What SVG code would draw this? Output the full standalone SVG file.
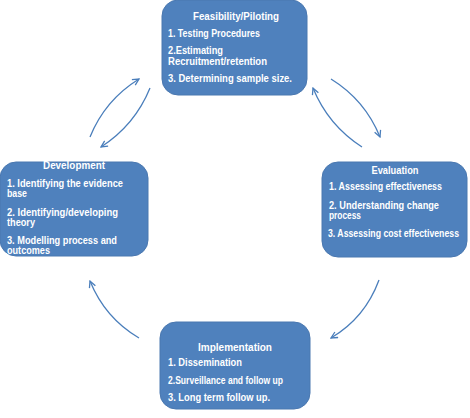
<svg xmlns="http://www.w3.org/2000/svg" width="470" height="418" viewBox="0 0 470 418">
<defs>
<style>
.box{fill:#4f81bd;stroke:#4a78b0;stroke-width:1}
.t{font-family:"Liberation Sans",Arial,sans-serif;font-size:10px;font-weight:bold;fill:#ffffff}
.h{text-anchor:middle}
.c{fill:none;stroke:#4a7ebb;stroke-width:1.3}
</style>
<marker id="ah" viewBox="0 0 10 10" refX="9" refY="5" markerWidth="8" markerHeight="8" markerUnits="userSpaceOnUse" orient="auto">
<polyline points="1,1 9,5 1,9" fill="none" stroke="#4a7ebb" stroke-width="1.6"/>
</marker>
</defs>
<rect width="470" height="418" fill="#ffffff"/>
<g id="feasibility">
<rect class="box" x="162" y="0" width="145" height="95" rx="16"/>
<text class="t h" x="236" y="20" textLength="86" lengthAdjust="spacingAndGlyphs">Feasibility/Piloting</text>
<text class="t" x="168" y="37" textLength="92" lengthAdjust="spacingAndGlyphs">1. Testing Procedures</text>
<text class="t" x="168" y="54" textLength="55" lengthAdjust="spacingAndGlyphs">2.Estimating</text>
<text class="t" x="168" y="65" textLength="99" lengthAdjust="spacingAndGlyphs">Recruitment/retention</text>
<text class="t" x="168" y="82" textLength="124" lengthAdjust="spacingAndGlyphs">3. Determining sample size.</text>
</g>
<g id="development">
<rect class="box" x="0" y="162" width="148" height="94" rx="16"/>
<text class="t h" x="74" y="169" textLength="62" lengthAdjust="spacingAndGlyphs">Development</text>
<text class="t" x="7" y="187" textLength="116" lengthAdjust="spacingAndGlyphs">1. Identifying the evidence</text>
<text class="t" x="7" y="197" textLength="20" lengthAdjust="spacingAndGlyphs">base</text>
<text class="t" x="7" y="216" textLength="111" lengthAdjust="spacingAndGlyphs">2. Identifying/developing</text>
<text class="t" x="7" y="226" textLength="28" lengthAdjust="spacingAndGlyphs">theory</text>
<text class="t" x="7" y="244" textLength="110" lengthAdjust="spacingAndGlyphs">3. Modelling process and</text>
<text class="t" x="7" y="254" textLength="43" lengthAdjust="spacingAndGlyphs">outcomes</text>
</g>
<g id="evaluation">
<rect class="box" x="322" y="162" width="145" height="95" rx="16"/>
<text class="t h" x="395" y="174" textLength="47" lengthAdjust="spacingAndGlyphs">Evaluation</text>
<text class="t" x="329" y="190" textLength="113" lengthAdjust="spacingAndGlyphs">1. Assessing effectiveness</text>
<text class="t" x="329" y="209" textLength="110" lengthAdjust="spacingAndGlyphs">2. Understanding change</text>
<text class="t" x="329" y="219" textLength="32" lengthAdjust="spacingAndGlyphs">process</text>
<text class="t" x="328" y="237" textLength="131" lengthAdjust="spacingAndGlyphs">3. Assessing cost effectiveness</text>
</g>
<g id="implementation">
<rect class="box" x="160" y="322" width="150" height="87" rx="16"/>
<text class="t h" x="235" y="351" textLength="74" lengthAdjust="spacingAndGlyphs">Implementation</text>
<text class="t" x="168" y="366" textLength="74" lengthAdjust="spacingAndGlyphs">1. Dissemination</text>
<text class="t" x="168" y="384" textLength="115" lengthAdjust="spacingAndGlyphs">2.Surveillance and follow up</text>
<text class="t" x="168" y="401" textLength="102" lengthAdjust="spacingAndGlyphs">3. Long term follow up.</text>
</g>
<g id="connectors">
<path class="c" d="M90,137 Q105,100 139,79" marker-end="url(#ah)"/>
<path class="c" d="M150,88 Q135,125 101,147" marker-end="url(#ah)"/>
<path class="c" d="M331,79 Q365,100 380,137" marker-end="url(#ah)"/>
<path class="c" d="M362,147 Q328,125 313,88" marker-end="url(#ah)"/>
<path class="c" d="M379,280 Q365,318 331,338" marker-end="url(#ah)"/>
<path class="c" d="M139,338 Q105,318 90,281" marker-end="url(#ah)"/>
</g>
</svg>
